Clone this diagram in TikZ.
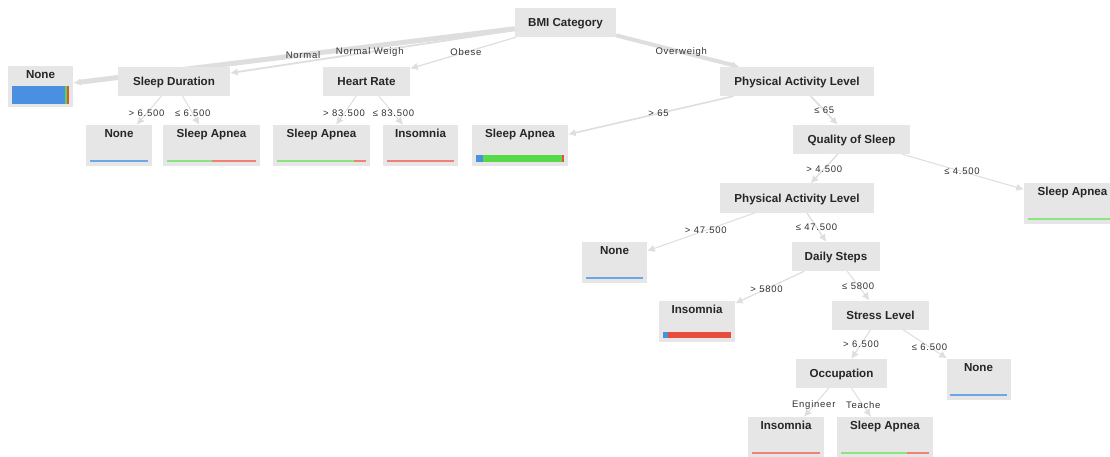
\documentclass[tikz,border=0pt]{standalone}
\usepackage{fontspec}
\setmainfont{Liberation Sans}
\newfontfamily\lblfamily[LetterSpace=8]{Liberation Sans}
\usepackage{tikz}
\usetikzlibrary{arrows.meta,calc,backgrounds}
\definecolor{boxgray}{HTML}{E6E6E6}
\definecolor{edgegray}{HTML}{DEDEDE}
\definecolor{titletext}{HTML}{262626}
\definecolor{labelgray}{HTML}{333333}
\definecolor{noneblue}{HTML}{4A8FE0}
\definecolor{apneagreen}{HTML}{58D94A}
\definecolor{insomred}{HTML}{E84C3D}
% one coloured piece of a class bar: node, from, to, colour, thickness
\newcommand{\barseg}[5]{%
  \coordinate (bl) at ($(#1.south west)+(4,-4)$);
  \coordinate (br) at ($(#1.south east)+(-4,-4)$);
  \fill[#4] ($(bl)!#2!(br)$) rectangle ($(bl)!#3!(br)+(0,-#5)$);}

\begin{document}
\begin{tikzpicture}[x=1pt,y=-1pt,
    split/.style={fill=boxgray, minimum height=29pt, inner sep=0pt, text height=8.4pt, text depth=0pt,
      font=\bfseries\fontsize{11.6}{13}\selectfont, text=titletext},
    leaf/.style={fill=boxgray, inner sep=0pt, text height=12.5pt, text depth=28.5pt,
      font=\bfseries\fontsize{11.6}{13}\selectfont, text=titletext},
    edge/.style={draw=edgegray, -{Latex[length=7.5pt,width=7.5pt]}},
    elabel/.style={font=\lblfamily\fontsize{9.5}{11}\selectfont, text=labelgray, inner sep=0pt}]
  \useasboundingbox (0,0) rectangle (1110,457);
  \clip (0,0) rectangle (1110,457);

  % split nodes
  \node[split, minimum width=101pt] (bmi) at (565.5,22.5) {BMI Category};
  \node[split, minimum width=112pt] (sleepdur) at (174,81.5) {Sleep Duration};
  \node[split, minimum width=87pt] (heartrate) at (366.5,81.5) {Heart Rate};
  \node[split, minimum width=154pt] (pal) at (797,81.5) {Physical Activity Level};
  \node[split, minimum width=117pt] (quality) at (851.5,139.5) {Quality of Sleep};
  \node[split, minimum width=154pt] (palb) at (797,198) {Physical Activity Level};
  \node[split, minimum width=88pt] (steps) at (836,256.5) {Daily Steps};
  \node[split, minimum width=97pt] (stress) at (880.5,315) {Stress Level};
  \node[split, minimum width=91pt] (occup) at (841.5,373.5) {Occupation};

  % leaves
  \node[leaf, minimum width=65pt] (none1) at (40.5,87) {None};
  \node[leaf, minimum width=66pt] (none2) at (119,145.5) {None};
  \node[leaf, minimum width=97pt] (apnea1) at (211.5,145.5) {Sleep Apnea};
  \node[leaf, minimum width=97pt] (apnea2) at (321.5,145.5) {Sleep Apnea};
  \node[leaf, minimum width=75pt] (insom1) at (420.5,145.5) {Insomnia};
  \node[leaf, minimum width=96pt] (apnea3) at (520,145.5) {Sleep Apnea};
  \node[leaf, minimum width=97pt] (apnea4) at (1072.5,203.5) {Sleep Apnea};
  \node[leaf, minimum width=65pt] (none3) at (614.5,262.5) {None};
  \node[leaf, minimum width=76pt] (insom2) at (697,321) {Insomnia};
  \node[leaf, minimum width=64pt] (none4) at (978.5,379) {None};
  \node[leaf, minimum width=76pt] (insom3) at (786,437.5) {Insomnia};
  \node[leaf, minimum width=96pt] (apnea5) at (885,437.5) {Sleep Apnea};

  % branches, behind the boxes
  \begin{scope}[on background layer]
  \fill[white] (0,0) rectangle (1110,457);
  \foreach \from/\to/\w/\lbl in {bmi/none1/5/Normal, bmi/sleepdur/1.8/Normal Weigh, bmi/heartrate/1.2/Obese,
      bmi/pal/4/Overweigh, sleepdur/none2/1/> 6.500, sleepdur/apnea1/1/≤ 6.500,
      heartrate/apnea2/1/> 83.500, heartrate/insom1/1/≤ 83.500, pal/apnea3/1.6/> 65, pal/quality/1.6/≤ 65,
      quality/palb/1.4/> 4.500, quality/apnea4/1/≤ 4.500, palb/none3/1/> 47.500, palb/steps/1.3/≤ 47.500,
      steps/insom2/1.2/> 5800, steps/stress/1/≤ 5800, stress/occup/1/> 6.500, stress/none4/1/≤ 6.500,
      occup/insom3/1/Engineer, occup/apnea5/1/Teache}
  {
    \draw[edge, line width=\w pt] (\from) -- (\to);
    \node[elabel] at ($(\from)!0.5!(\to)$) {\lbl};
  }
  \end{scope}

  % class bars
  \barseg{none1}{0}{0.93}{noneblue}{18}
  \barseg{none1}{0.93}{0.965}{apneagreen}{18}
  \barseg{none1}{0.965}{1}{insomred}{18}
  \barseg{none2}{0}{1}{noneblue!80}{2}
  \barseg{apnea1}{0}{0.51}{apneagreen!70}{2}
  \barseg{apnea1}{0.51}{1}{insomred!70}{2}
  \barseg{apnea2}{0}{0.86}{apneagreen!70}{2}
  \barseg{apnea2}{0.86}{1}{insomred!70}{2}
  \barseg{insom1}{0}{1}{insomred!70}{2}
  \barseg{apnea3}{0}{0.08}{noneblue}{7}
  \barseg{apnea3}{0.08}{0.977}{apneagreen}{7}
  \barseg{apnea3}{0.977}{1}{insomred}{7}
  \barseg{apnea4}{0}{1}{apneagreen!70}{2}
  \barseg{none3}{0}{1}{noneblue!80}{2}
  \barseg{insom2}{0}{0.07}{noneblue}{6}
  \barseg{insom2}{0.07}{1}{insomred}{6}
  \barseg{none4}{0}{1}{noneblue!80}{2}
  \barseg{insom3}{0}{1}{insomred!70}{2}
  \barseg{apnea5}{0}{0.75}{apneagreen!70}{2}
  \barseg{apnea5}{0.75}{1}{insomred!70}{2}
\end{tikzpicture}
\end{document}
